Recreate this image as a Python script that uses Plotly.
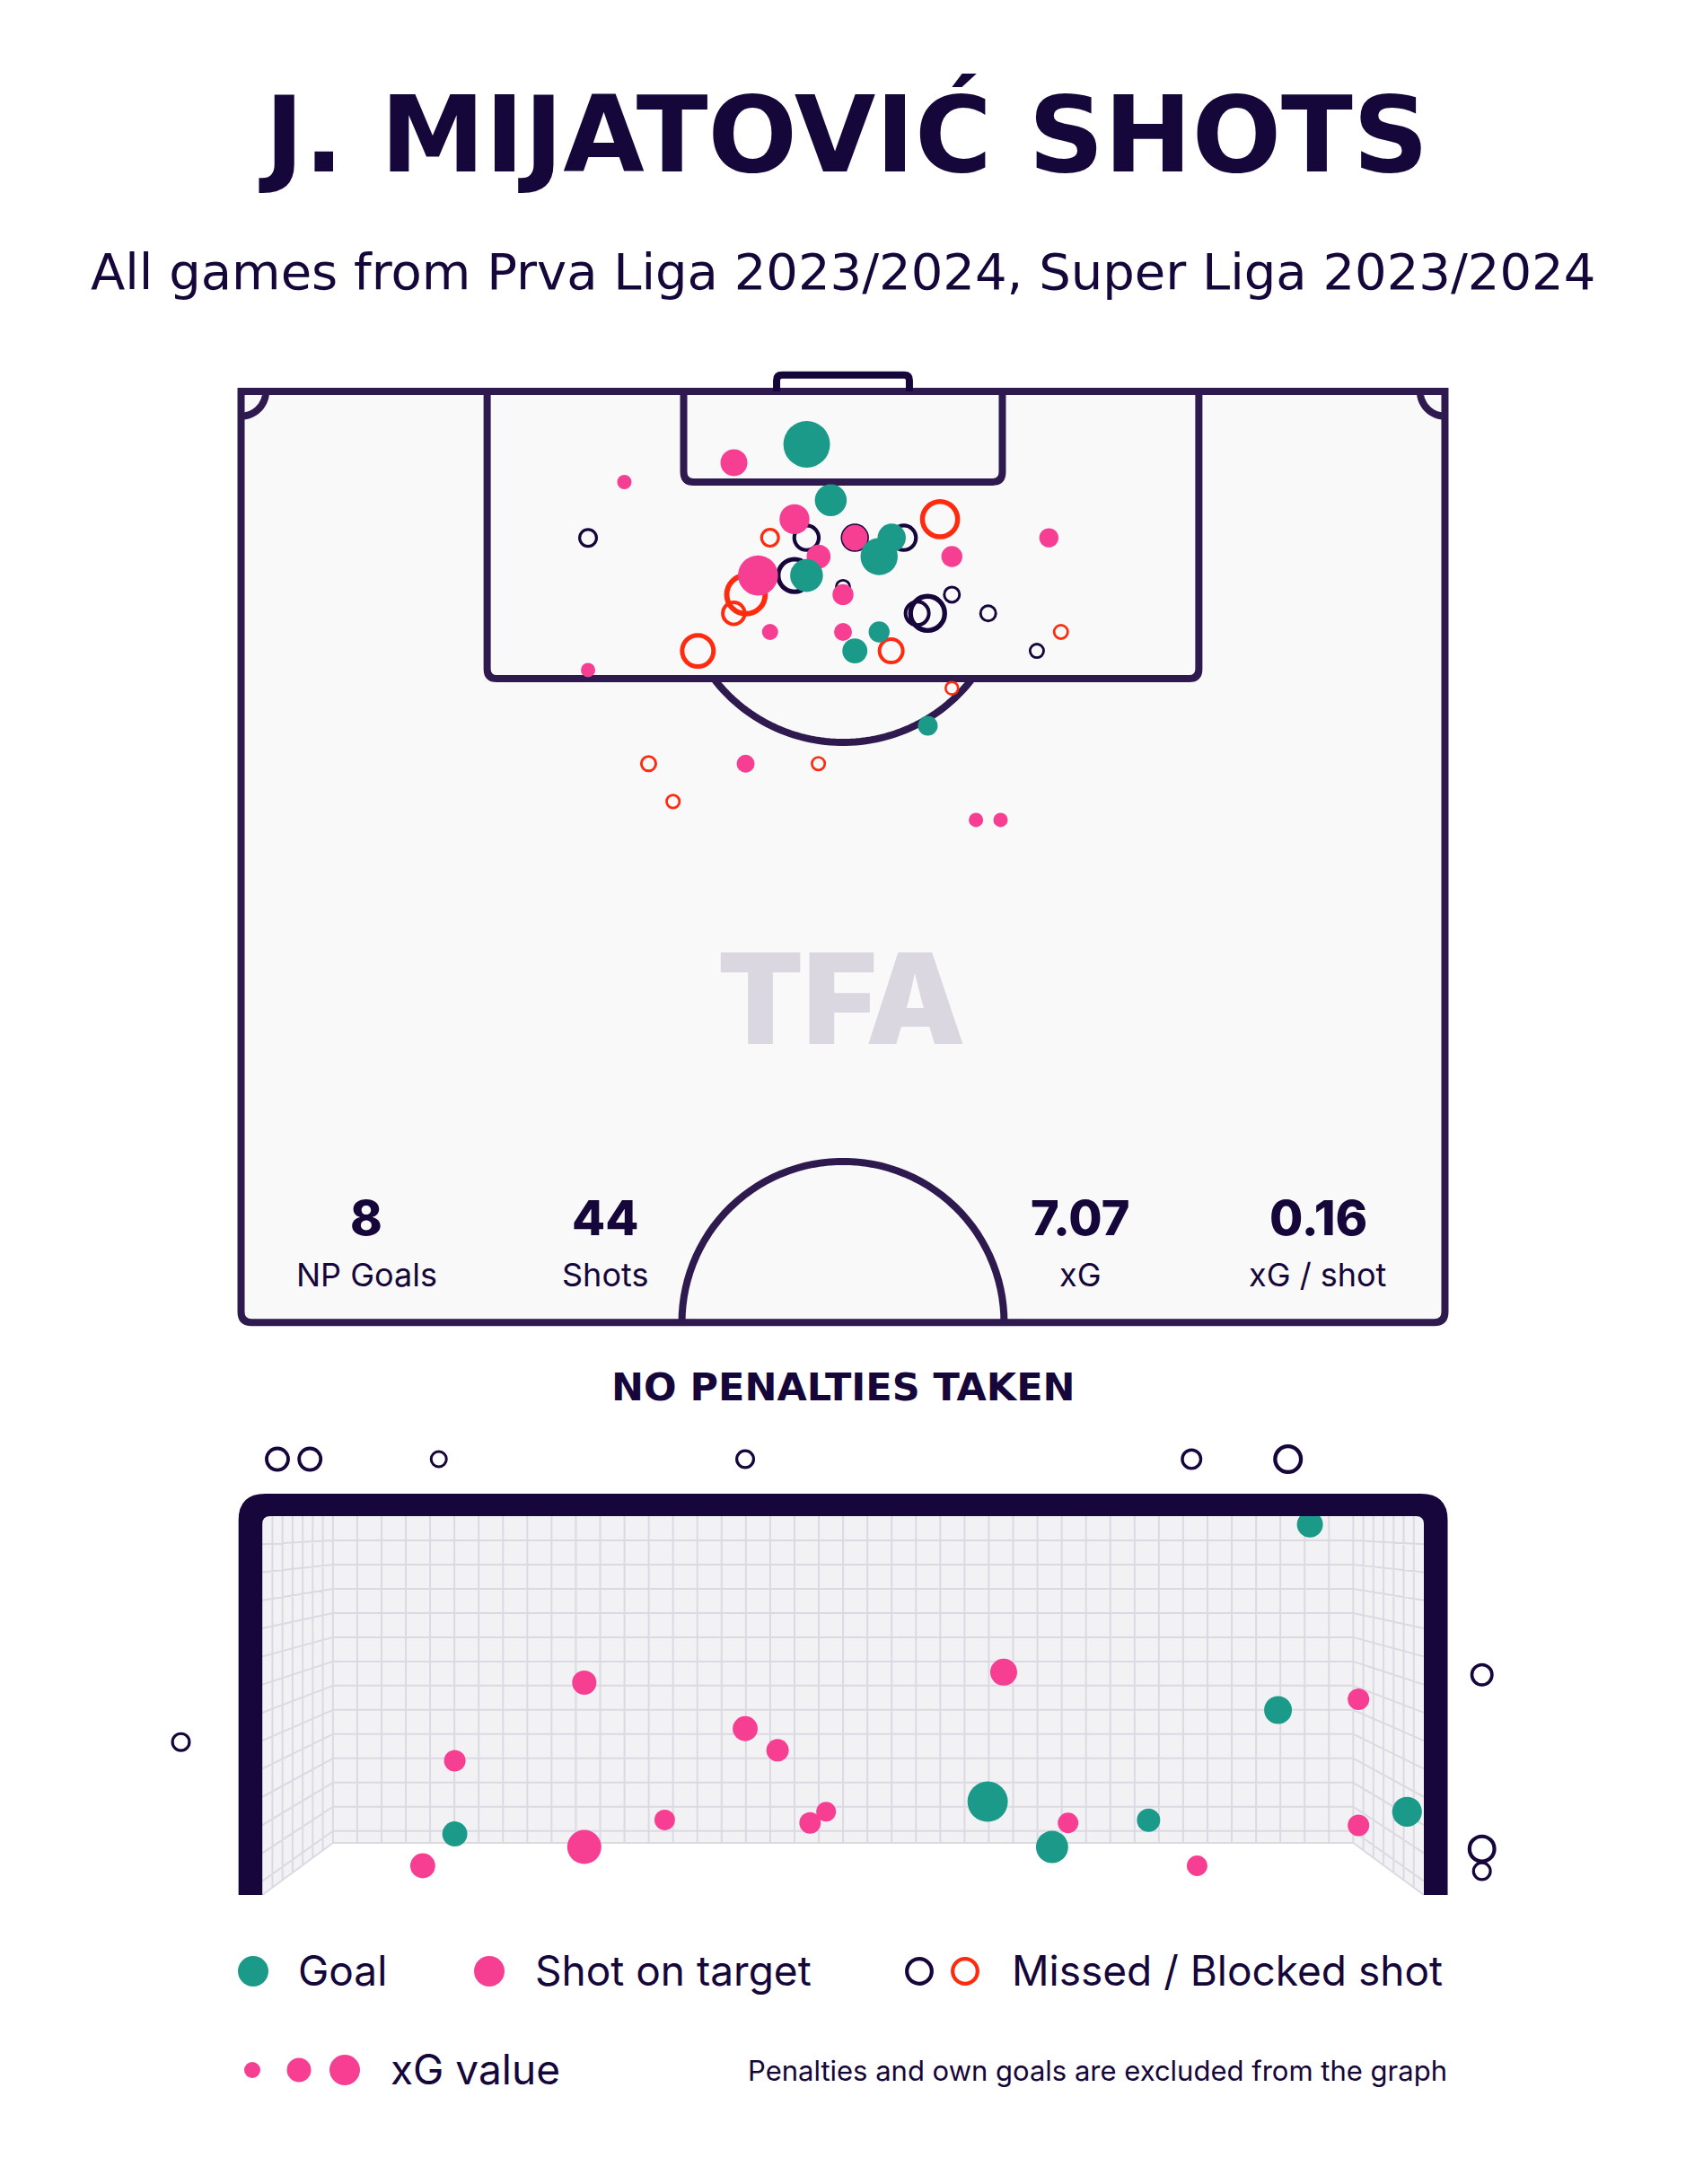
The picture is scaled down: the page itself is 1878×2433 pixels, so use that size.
import numpy as np
import plotly.graph_objects as go

W, H = 1878, 2433

# ---------------- shot map (metres: x from pitch centre, y from goal line) ----------------
goal_x = [-2.05, -0.69, 2.75, 2.04, -2.06, 2.04, 0.67, 4.79]
goal_y = [2.99, 6.15, 8.27, 9.33, 10.40, 13.59, 14.66, 18.89]
goal_xg = [0.90, 0.29, 0.19, 0.47, 0.32, 0.055, 0.12, 0.04]

ontarget_x = [-6.16, -12.35, -2.74, 0.67, 11.63, -1.38, 6.15, -4.80, 0.0, -4.12, 0.0, -14.40, -5.50, 7.51, 8.90]
ontarget_y = [4.03, 5.12, 7.22, 8.27, 8.27, 9.33, 9.33, 10.40, 11.48, 13.59, 13.59, 15.74, 21.03, 24.21, 24.21]
ontarget_xg = [0.16, 0.0025, 0.235, 0.13, 0.034, 0.10, 0.055, 0.585, 0.055, 0.01, 0.0225, 0.0025, 0.0225, 0.0025, 0.0025]

missed_x = [-14.40, -2.06, 0.67, 3.43, -2.74, 0.0, 6.15, 4.19, 4.78, 8.20, 10.95]
missed_y = [8.28, 8.27, 8.27, 8.27, 10.40, 11.05, 11.48, 12.54, 12.54, 12.54, 14.66]
missed_xg = [0.04, 0.19, 0.19, 0.19, 0.47, 0.01, 0.0225, 0.16, 0.54, 0.0225, 0.01]

blocked_x = [5.48, -4.12, -5.48, -6.17, 12.31, -8.20, 2.72, 6.15, -10.98, -1.39, -9.60]
blocked_y = [7.22, 8.27, 11.48, 12.54, 13.59, 14.66, 14.66, 16.77, 21.03, 21.03, 23.17]
blocked_xg = [0.585, 0.04, 0.75, 0.13, 0.01, 0.42, 0.16, 0.004, 0.016, 0.006, 0.006]

# ---------------- goal mouth view (metres: x from goal centre, z height) ----------------
gv_goal_x = [-2.447, 2.942, 2.741, 0.911, 1.317, 1.925, 3.554]
gv_goal_z = [0.393, 2.387, 1.191, 0.601, 0.309, 0.481, 0.536]
gv_goal_xg = [0.12, 0.14, 0.18, 0.60, 0.30, 0.09, 0.23]

gv_ontarget_x = [-1.631, -2.447, -2.649, -1.631, -1.124, -0.617, -0.413, -0.208, -0.107, 1.012, 1.418, 2.231, 3.248, 3.248]
gv_ontarget_z = [1.368, 0.864, 0.188, 0.309, 0.483, 1.071, 0.932, 0.464, 0.536, 1.435, 0.464, 0.188, 1.260, 0.448]
gv_ontarget_xg = [0.106, 0.0625, 0.12, 0.36, 0.05, 0.12, 0.076, 0.0625, 0.04, 0.16, 0.05, 0.05, 0.0625, 0.0625]

gv_missed_x = [-3.565, -3.360, -2.548, -0.617, 2.196, 2.804, -4.173, 4.026, 4.026, 4.026]
gv_missed_z = [2.807, 2.807, 2.807, 2.807, 2.807, 2.807, 0.985, 1.418, 0.297, 0.153]
gv_missed_xg = [0.12, 0.12, 0.0225, 0.04, 0.0625, 0.226, 0.04, 0.09, 0.20, 0.04]

stat_values = ["8", "44", "7.07", "0.16"]
stat_labels = ["NP Goals", "Shots", "xG", "xG / shot"]
legend_xg = [0.01, 0.105, 0.25]

TEAL = "#1c9a89"
PINK = "#f63f92"
RED = "#ff2b0f"
DARK = "#16063b"
LINE = "#2e1a4f"
TXT = "#16073b"
FONT = "Inter"
WIDE = "DejaVu Sans"

# the page body keeps an 8px margin, so figure pixels sit 8px in from the page
OFF = 8
FW, FH = W - 2 * OFF, H - 2 * OFF


def ydom(p_top, p_bot):
    return [(FH - (p_bot - OFF)) / FH, (FH - (p_top - OFF)) / FH]


def radius(xg):
    return 7 + 20 * np.sqrt(np.asarray(xg, dtype=float))


def filled(x, y, xg, color, xa, ya):
    return go.Scatter(x=x, y=y, mode="markers", xaxis=xa, yaxis=ya, cliponaxis=False,
                      hoverinfo="skip", showlegend=False,
                      marker=dict(size=2 * radius(xg), color=color, opacity=1, line=dict(width=0)))


def ring(x, y, xg, color, xa, ya):
    r = radius(xg)
    stroke = 1 + 0.2 * r
    return go.Scatter(x=x, y=y, mode="markers", xaxis=xa, yaxis=ya, cliponaxis=False,
                      hoverinfo="skip", showlegend=False,
                      marker=dict(size=2 * r - stroke, color="rgba(0,0,0,0)", opacity=1,
                                  line=dict(width=stroke, color=color)))


def arc(cx, cy, r, a0, a1, n=60):
    t = np.radians(np.linspace(a0, a1, n))
    pts = [f"{cx + r * np.cos(a):.4f},{cy + r * np.sin(a):.4f}" for a in t]
    return "M " + " L ".join(pts)


def open_box(hw, depth, rc):
    return (f"M {-hw},0 L {-hw},{depth - rc} Q {-hw},{depth} {-hw + rc},{depth} "
            f"L {hw - rc},{depth} Q {hw},{depth} {hw},{depth - rc} L {hw},0")


fig = go.Figure()

# ---------------- pitch drawing ----------------
HW, HL = 34.0, 52.6
shapes = []
pl = dict(color=LINE, width=8)
shapes.append(dict(type="path", xref="x", yref="y", layer="below",
                   path=f"M {-HW},0 L {-HW},{HL - 0.6} Q {-HW},{HL} {-HW + 0.6},{HL} "
                        f"L {HW - 0.6},{HL} Q {HW},{HL} {HW},{HL - 0.6} L {HW},0 Z",
                   fillcolor="#f9f9f9", line=pl))
shapes.append(dict(type="path", xref="x", yref="y", layer="below", path=open_box(20.1, 16.23, 0.55), line=pl))
shapes.append(dict(type="path", xref="x", yref="y", layer="below", path=open_box(9.0, 5.12, 0.55), line=pl))
shapes.append(dict(type="path", xref="x", yref="y", layer="below", path=arc(0, 10.63, 9.2, 37.5, 142.5), line=pl))
shapes.append(dict(type="path", xref="x", yref="y", layer="below", path=arc(0, HL, 9.1, 180, 360), line=pl))
shapes.append(dict(type="path", xref="x", yref="y", layer="below", path=arc(-HW, 0, 1.4, 0, 90, 20), line=pl))
shapes.append(dict(type="path", xref="x", yref="y", layer="below", path=arc(HW, 0, 1.4, 90, 180, 20), line=pl))
shapes.append(dict(type="path", xref="x", yref="y", layer="below",
                   path="M -3.75,0 L -3.75,-0.62 Q -3.75,-0.92 -3.45,-0.92 L 3.45,-0.92 Q 3.75,-0.92 3.75,-0.62 L 3.75,0",
                   line=dict(color=DARK, width=8)))

# ---------------- goal mouth drawing ----------------
POST, TOP = 3.66, 2.44
BACK, BACK_B = 3.215, 0.335
OUT_X, OUT_Z = 3.81, 2.585
net_fill = "#f2f2f5"
shapes.append(dict(type="path", xref="x2", yref="y2", layer="below",
                   path=f"M {-BACK},{BACK_B} L {BACK},{BACK_B} L {BACK},{TOP} L {-BACK},{TOP} Z",
                   fillcolor=net_fill, line=dict(width=0)))
for s in (-1, 1):
    shapes.append(dict(type="path", xref="x2", yref="y2", layer="below",
                       path=f"M {s * POST},0 L {s * BACK},{BACK_B} L {s * BACK},{TOP} L {s * POST},{TOP} Z",
                       fillcolor=net_fill, line=dict(width=0)))

segs = []
for x in np.linspace(-BACK, BACK, 43):
    segs.append(f"M {x:.4f},{BACK_B} L {x:.4f},{TOP}")
z = TOP - 0.156
while z > BACK_B + 0.02:
    segs.append(f"M {-BACK},{z:.4f} L {BACK},{z:.4f}")
    zf = TOP - (TOP - z) * TOP / (TOP - BACK_B)
    for s in (-1, 1):
        segs.append(f"M {s * BACK},{z:.4f} L {s * POST},{zf:.4f}")
    z -= 0.156
segs.append(f"M {-BACK},{BACK_B} L {BACK},{BACK_B}")
for s in (-1, 1):
    segs.append(f"M {s * POST},0 L {s * BACK},{BACK_B}")
    for t in np.linspace(0, 1, 8)[1:-1]:
        xv = s * (POST - t * (POST - BACK))
        segs.append(f"M {xv:.4f},{BACK_B * t:.4f} L {xv:.4f},{TOP}")
shapes.append(dict(type="path", xref="x2", yref="y2", layer="below", path=" ".join(segs),
                   line=dict(color="#dcd9e3", width=2)))

rc_o, rc_i = 0.17, 0.05
shapes.append(dict(type="path", xref="x2", yref="y2", layer="above",
                   path=(f"M {-OUT_X},0 L {-OUT_X},{OUT_Z - rc_o} Q {-OUT_X},{OUT_Z} {-OUT_X + rc_o},{OUT_Z} "
                         f"L {OUT_X - rc_o},{OUT_Z} Q {OUT_X},{OUT_Z} {OUT_X},{OUT_Z - rc_o} L {OUT_X},0 "
                         f"L {POST},0 L {POST},{TOP - rc_i} Q {POST},{TOP} {POST - rc_i},{TOP} "
                         f"L {-POST + rc_i},{TOP} Q {-POST},{TOP} {-POST},{TOP - rc_i} L {-POST},0 Z"),
                   fillcolor=DARK, line=dict(width=0)))

# ---------------- shots ----------------
fig.add_trace(ring(blocked_x, blocked_y, blocked_xg, RED, "x", "y"))
fig.add_trace(ring(missed_x, missed_y, missed_xg, DARK, "x", "y"))
fig.add_trace(filled(ontarget_x, ontarget_y, ontarget_xg, PINK, "x", "y"))
fig.add_trace(filled(goal_x, goal_y, goal_xg, TEAL, "x", "y"))

fig.add_trace(ring(gv_missed_x, gv_missed_z, gv_missed_xg, DARK, "x2", "y2"))
fig.add_trace(filled(gv_ontarget_x, gv_ontarget_z, gv_ontarget_xg, PINK, "x2", "y2"))
fig.add_trace(filled(gv_goal_x, gv_goal_z, gv_goal_xg, TEAL, "x2", "y2"))

# ---------------- legend (page-pixel axes) ----------------
fig.add_trace(filled([282, 545], [2196, 2196], [0.25, 0.25], None, "x3", "y3"))
fig.data[-1].marker.color = [TEAL, PINK]
fig.add_trace(ring([1024, 1075], [2196, 2196], [0.2, 0.2], DARK, "x3", "y3"))
fig.data[-1].marker.line.color = [DARK, RED]
fig.add_trace(filled([281, 333, 384], [2306] * 3, legend_xg, PINK, "x3", "y3"))

ann = []


def text(x, y, s, size, weight=400, color=TXT, xanchor="center", family=FONT):
    ann.append(dict(x=x, y=y, xref="x3", yref="y3", text=s, showarrow=False, xanchor=xanchor,
                    yanchor="middle", font=dict(family=family, size=size, color=color, weight=weight)))


text(939, 150, "J. MIJATOVIĆ SHOTS", 117, 700, family=WIDE)
text(939, 302, "All games from Prva Liga 2023/2024, Super Liga 2023/2024", 56, family=WIDE)
text(937, 1112, "TFA", 140, 900, color="#dad7e1")
for xc, v, lab in zip([408, 674, 1203, 1468], stat_values, stat_labels):
    text(xc, 1356, v, 54, 800)
    text(xc, 1420, lab, 36)
text(939, 1545, "NO PENALTIES TAKEN", 43, 700, family=WIDE)
text(330, 2195, "Goal", 46, xanchor="left")
text(594, 2195, "Shot on target", 46, xanchor="left")
text(1125, 2195, "Missed / Blocked shot", 46, xanchor="left")
text(433, 2305, "xG value", 46, xanchor="left")
text(1614, 2306, "Penalties and own goals are excluded from the graph", 31, xanchor="right")

hidden = dict(visible=False, showgrid=False, zeroline=False, fixedrange=True)
px_m = 19.72
kx, kz = 176.75, 172.95
pcx, p0 = 939, 436
gcx, g0 = 939.1, 2111
fig.update_layout(
    width=FW, height=FH, autosize=False,
    margin=dict(l=0, r=0, t=0, b=0),
    paper_bgcolor="white", plot_bgcolor="rgba(0,0,0,0)",
    shapes=shapes, annotations=ann,
    xaxis=dict(domain=[0, 1], range=[(OFF - pcx) / px_m, (OFF + FW - pcx) / px_m], **hidden),
    yaxis=dict(domain=ydom(380, 1500), range=[(1500 - p0) / px_m, (380 - p0) / px_m], **hidden),
    xaxis2=dict(domain=[0, 1], range=[(OFF - gcx) / kx, (OFF + FW - gcx) / kx], anchor="y2", **hidden),
    yaxis2=dict(domain=ydom(1560, 2130), range=[(g0 - 2130) / kz, (g0 - 1560) / kz], anchor="x2", **hidden),
    xaxis3=dict(domain=[0, 1], range=[OFF, OFF + FW], anchor="y3", **hidden),
    yaxis3=dict(domain=[0, 1], range=[OFF + FH, OFF], anchor="x3", **hidden),
)

fig.write_html("out.html", config={"displayModeBar": False})
